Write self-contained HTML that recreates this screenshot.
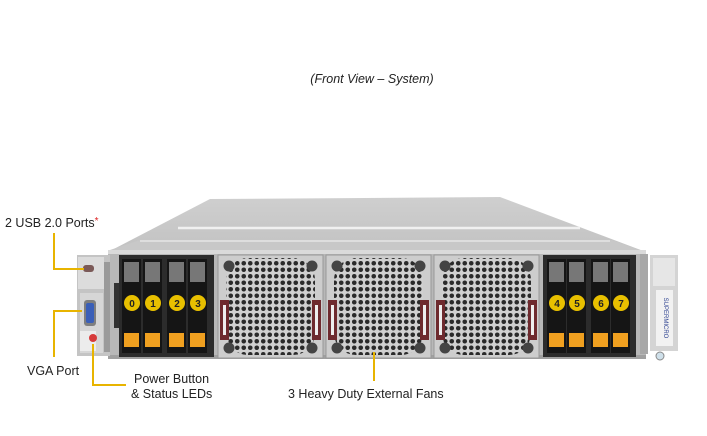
<!DOCTYPE html>
<html><head><meta charset="utf-8"><style>
html,body{margin:0;padding:0;background:#fff;}
svg{display:block;}
text{font-family:"Liberation Sans",sans-serif;fill:#222;}
</style></head><body>
<svg width="707" height="436" viewBox="0 0 707 436" xmlns="http://www.w3.org/2000/svg">
<defs>
<pattern id="holes" x="0" y="0" width="6.5" height="6.5" patternUnits="userSpaceOnUse">
<rect width="6.5" height="6.5" fill="#d0d0d0"/>
<circle cx="3.25" cy="3.25" r="2.3" fill="#2a2a2a"/>
</pattern>
<linearGradient id="top" x1="0" y1="0" x2="0" y2="1">
<stop offset="0" stop-color="#cfcfcf"/><stop offset="1" stop-color="#c2c2c2"/>
</linearGradient>
</defs>

<text x="372" y="83" font-size="12.5" font-style="italic" text-anchor="middle">(Front View – System)</text>

<polygon points="108,252 210,199 500,197 646,252" fill="url(#top)"/>
<line x1="178" y1="228" x2="580" y2="228" stroke="#f0f0f0" stroke-width="2.5"/>
<polygon points="110,250 140,240 612,240 646,252" fill="#c8c8c8"/>
<line x1="140" y1="241" x2="610" y2="241" stroke="#e6e6e6" stroke-width="1.5"/>
<rect x="108" y="250" width="538" height="109" fill="#b8b8b8"/>
<rect x="108" y="250" width="538" height="4" fill="#dadada"/>
<rect x="108" y="355" width="538" height="4" fill="#a0a0a0"/>

<rect x="77" y="255" width="33" height="101" fill="#c4c4c4"/>
<rect x="78" y="257" width="26" height="32" fill="#dcdcdc"/>
<rect x="83" y="265" width="11" height="7" rx="3" fill="#7b5a58"/>
<rect x="80" y="293" width="23" height="60" fill="#d6d6d6"/>
<rect x="84" y="300" width="12" height="26" rx="3" fill="#7f7f7f"/>
<rect x="86" y="303" width="8" height="20" rx="2" fill="#3a5fb8"/>
<rect x="80" y="331" width="16" height="20" fill="#ececec"/>
<circle cx="93" cy="338" r="4" fill="#d63a3a"/>
<rect x="104" y="262" width="6" height="90" fill="#9a9a9a"/>
<rect x="114" y="283" width="6" height="45" fill="#333"/>

<rect x="119" y="255" width="95" height="102" fill="#2c2c2c"/>
<rect x="543" y="255" width="93" height="102" fill="#2c2c2c"/>

<rect x="640" y="254" width="8" height="100" fill="#a7a7a7"/>
<rect x="650" y="255" width="28" height="96" fill="#d4d4d4"/>
<rect x="653" y="258" width="22" height="28" fill="#e6e6e6"/>
<rect x="656" y="290" width="17" height="56" fill="#f2f2f2"/>
<text x="664" y="318" font-size="6" transform="rotate(90 664 318)" text-anchor="middle" style="fill:#2a3f8f">SUPERMICRO</text>
<circle cx="660" cy="356" r="4" fill="#cfe0ea" stroke="#888" stroke-width="1"/>

<g>
<rect x="218" y="255" width="105" height="103" fill="#cdcdcd" stroke="#999"/>
<rect x="226" y="258" width="89" height="97" rx="22" fill="url(#holes)"/>
<circle cx="229" cy="266" r="5.5" fill="#444"/><circle cx="312" cy="266" r="5.5" fill="#444"/>
<circle cx="229" cy="348" r="5.5" fill="#444"/><circle cx="312" cy="348" r="5.5" fill="#444"/>
<rect x="220" y="300" width="9" height="40" fill="#6e2a2e"/><rect x="223" y="305" width="3" height="30" fill="#eee"/>
<rect x="312" y="300" width="9" height="40" fill="#6e2a2e"/><rect x="315" y="305" width="3" height="30" fill="#eee"/>
</g>
<g>
<rect x="326" y="255" width="105" height="103" fill="#cdcdcd" stroke="#999"/>
<rect x="334" y="258" width="89" height="97" rx="22" fill="url(#holes)"/>
<circle cx="337" cy="266" r="5.5" fill="#444"/><circle cx="420" cy="266" r="5.5" fill="#444"/>
<circle cx="337" cy="348" r="5.5" fill="#444"/><circle cx="420" cy="348" r="5.5" fill="#444"/>
<rect x="328" y="300" width="9" height="40" fill="#6e2a2e"/><rect x="331" y="305" width="3" height="30" fill="#eee"/>
<rect x="420" y="300" width="9" height="40" fill="#6e2a2e"/><rect x="423" y="305" width="3" height="30" fill="#eee"/>
</g>
<g>
<rect x="434" y="255" width="105" height="103" fill="#cdcdcd" stroke="#999"/>
<rect x="442" y="258" width="89" height="97" rx="22" fill="url(#holes)"/>
<circle cx="445" cy="266" r="5.5" fill="#444"/><circle cx="528" cy="266" r="5.5" fill="#444"/>
<circle cx="445" cy="348" r="5.5" fill="#444"/><circle cx="528" cy="348" r="5.5" fill="#444"/>
<rect x="436" y="300" width="9" height="40" fill="#6e2a2e"/><rect x="439" y="305" width="3" height="30" fill="#eee"/>
<rect x="528" y="300" width="9" height="40" fill="#6e2a2e"/><rect x="531" y="305" width="3" height="30" fill="#eee"/>
</g>

<g font-size="10" font-weight="bold" text-anchor="middle">
<g transform="translate(122,0)"><rect y="259" width="19" height="94" fill="#151515"/><rect x="2" y="262" width="15" height="20" fill="#777"/><circle cx="10" cy="303" r="8" fill="#e8c000"/><text x="10" y="307" style="fill:#222">0</text><rect x="2" y="333" width="15" height="14" fill="#f0a020"/></g>
<g transform="translate(143,0)"><rect y="259" width="19" height="94" fill="#151515"/><rect x="2" y="262" width="15" height="20" fill="#777"/><circle cx="10" cy="303" r="8" fill="#e8c000"/><text x="10" y="307" style="fill:#222">1</text><rect x="2" y="333" width="15" height="14" fill="#f0a020"/></g>
<g transform="translate(167,0)"><rect y="259" width="19" height="94" fill="#151515"/><rect x="2" y="262" width="15" height="20" fill="#777"/><circle cx="10" cy="303" r="8" fill="#e8c000"/><text x="10" y="307" style="fill:#222">2</text><rect x="2" y="333" width="15" height="14" fill="#f0a020"/></g>
<g transform="translate(188,0)"><rect y="259" width="19" height="94" fill="#151515"/><rect x="2" y="262" width="15" height="20" fill="#777"/><circle cx="10" cy="303" r="8" fill="#e8c000"/><text x="10" y="307" style="fill:#222">3</text><rect x="2" y="333" width="15" height="14" fill="#f0a020"/></g>
<g transform="translate(547,0)"><rect y="259" width="19" height="94" fill="#151515"/><rect x="2" y="262" width="15" height="20" fill="#777"/><circle cx="10" cy="303" r="8" fill="#e8c000"/><text x="10" y="307" style="fill:#222">4</text><rect x="2" y="333" width="15" height="14" fill="#f0a020"/></g>
<g transform="translate(567,0)"><rect y="259" width="19" height="94" fill="#151515"/><rect x="2" y="262" width="15" height="20" fill="#777"/><circle cx="10" cy="303" r="8" fill="#e8c000"/><text x="10" y="307" style="fill:#222">5</text><rect x="2" y="333" width="15" height="14" fill="#f0a020"/></g>
<g transform="translate(591,0)"><rect y="259" width="19" height="94" fill="#151515"/><rect x="2" y="262" width="15" height="20" fill="#777"/><circle cx="10" cy="303" r="8" fill="#e8c000"/><text x="10" y="307" style="fill:#222">6</text><rect x="2" y="333" width="15" height="14" fill="#f0a020"/></g>
<g transform="translate(611,0)"><rect y="259" width="19" height="94" fill="#151515"/><rect x="2" y="262" width="15" height="20" fill="#777"/><circle cx="10" cy="303" r="8" fill="#e8c000"/><text x="10" y="307" style="fill:#222">7</text><rect x="2" y="333" width="15" height="14" fill="#f0a020"/></g>
</g>

<g stroke="#e8b400" stroke-width="2" fill="none">
<polyline points="54,233 54,269 84,269"/>
<polyline points="54,357 54,311 82,311"/>
<polyline points="93,344 93,385 126,385"/>
<line x1="374" y1="352" x2="374" y2="381"/>
</g>

<text x="5" y="227" font-size="12.5">2 USB 2.0 Ports<tspan style="fill:#d22" font-size="10" dy="-3">*</tspan></text>
<text x="27" y="375" font-size="12.5">VGA Port</text>
<text x="134" y="383" font-size="12.5">Power Button</text>
<text x="131" y="398" font-size="12.5">&amp; Status LEDs</text>
<text x="288" y="398" font-size="12.5">3 Heavy Duty External Fans</text>
</svg>
</body></html>
